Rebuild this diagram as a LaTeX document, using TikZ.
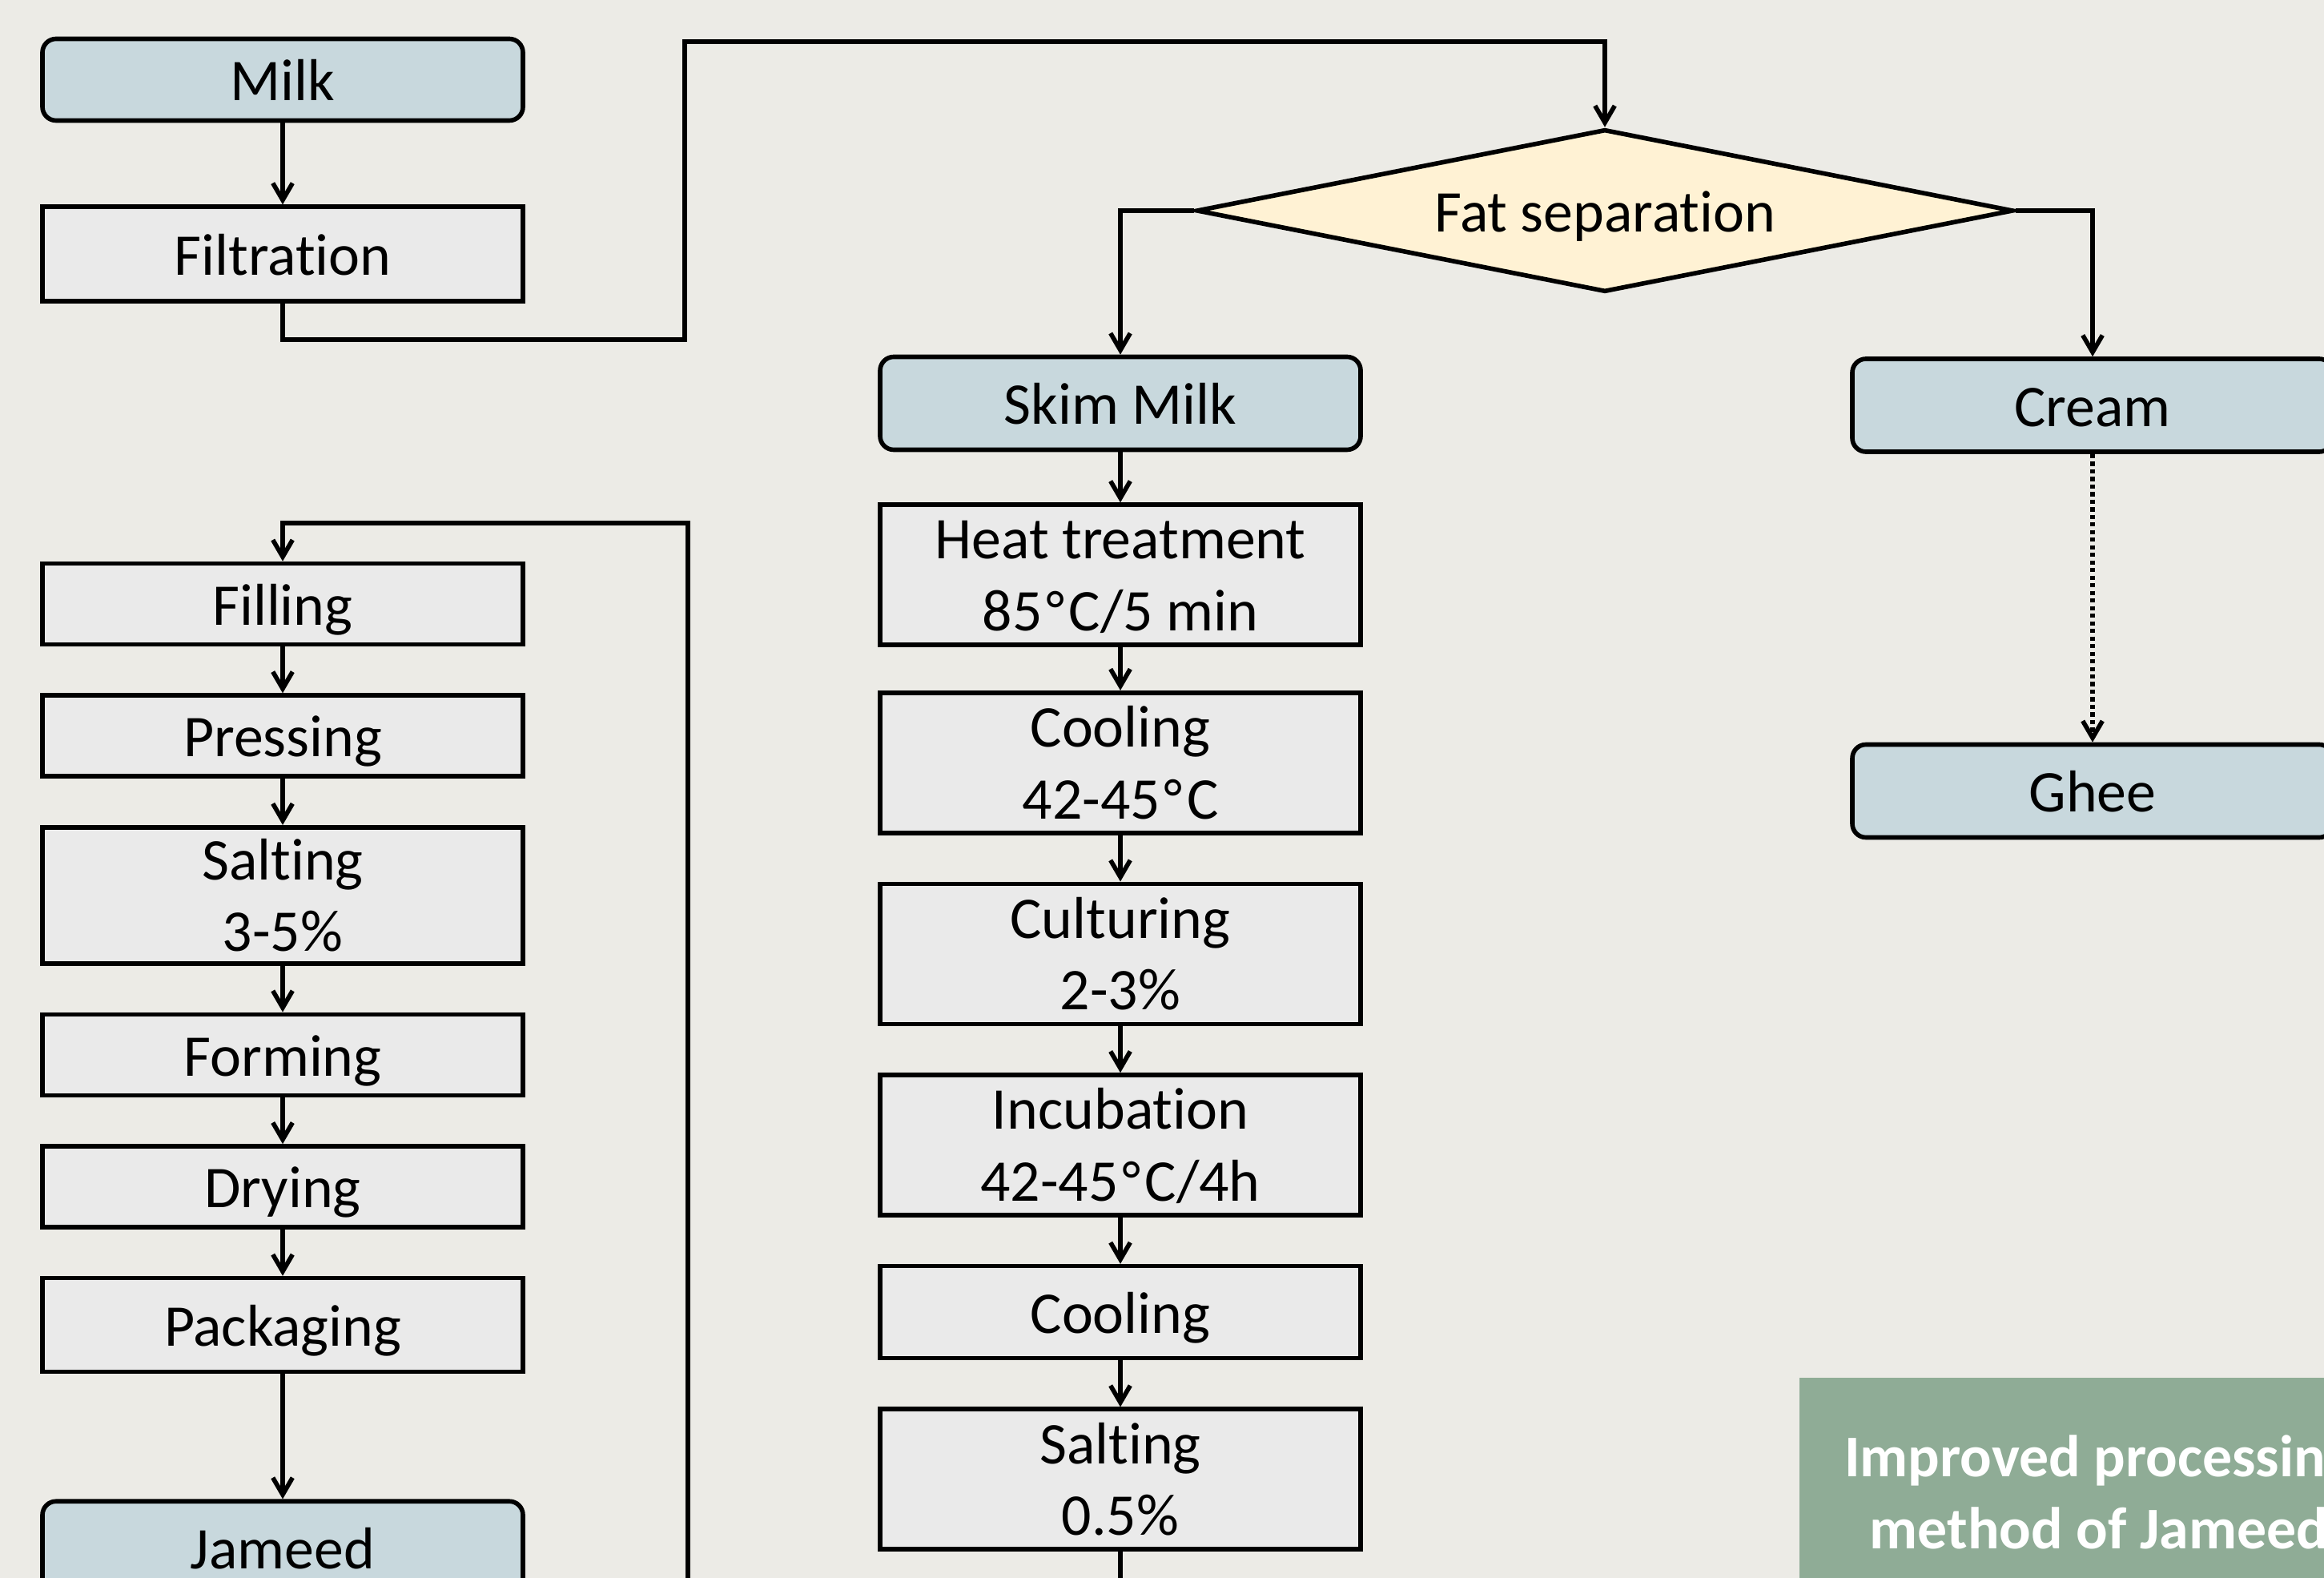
\documentclass[tikz,border=0pt]{standalone}
\usepackage{fontspec}
\setmainfont{Carlito}[Ligatures=NoCommon]
\newfontfamily\symfont{DejaVu Sans}[Scale=0.9]
\usetikzlibrary{positioning}
\usetikzlibrary{shapes.geometric}
\usetikzlibrary{arrows.meta}

\definecolor{bgcol}{RGB}{236,235,230}
\definecolor{proccol}{RGB}{234,234,234}
\definecolor{termcol}{RGB}{200,216,221}
\definecolor{deccol}{RGB}{255,242,212}
\definecolor{titlecol}{RGB}{143,172,150}
\newcommand{\capstrut}{\rule[-0.2em]{0pt}{1.11em}}
\newcommand{\degc}{{\symfont °}C}
\newcommand{\twoline}[2]{\rule{0pt}{0.88em}#1\\#2\rule[-0.2em]{0pt}{0.2em}}

\begin{document}
\begin{tikzpicture}[
    node distance=0.58cm,
    every node/.style={draw, line width=1.6pt, align=center, inner sep=0pt,
      font=\fontsize{21}{25.5}\selectfont,
      execute at begin node=\capstrut, execute at end node=\capstrut},
    proc/.style={fill=proccol, minimum width=6.0cm, minimum height=1.01cm},
    proc2/.style={proc, minimum height=1.75cm},
    term/.style={fill=termcol, rounded corners=0.17cm, minimum width=6.0cm, minimum height=1.16cm},
    decision/.style={diamond, aspect=5, fill=deccol, minimum width=10.2cm, minimum height=2.03cm},
    title/.style={draw=none, fill=titlecol, text=white, font=\fontsize{21}{25.5}\selectfont\bfseries,
      minimum width=7.48cm, minimum height=2.87cm},
    flow/.style={-{Straight Barb[length=6pt,width=7pt]}, line width=1.6pt}
  ]
  \useasboundingbox (0,0) rectangle (29.02,-19.70);
  \fill[bgcol] (0,0) rectangle (29.02,-19.70);

  \node[term, minimum height=1.02cm] (milk) at (3.53,-0.995) {Milk};
  \node[proc, minimum height=1.18cm, below=1.02cm of milk] (filt) {Filtration};
  \node[decision] (fat) at (20.04,-2.63) {Fat separation};
  \node[term] (skim) at (13.99,-5.035) {Skim Milk};
  \node[term] (cream) at (26.13,-5.06) {Cream};
  \node[term] (ghee) at (26.13,-9.875) {Ghee};

  \node[proc2, below=0.63cm of skim] (heat) {\twoline{Heat treatment}{85\degc/5 min}};
  \node[proc2, below=0.54cm of heat] (cool) {\twoline{Cooling}{42-45\degc}};
  \node[proc2, below=of cool] (cult) {\twoline{Culturing}{2-3\%}};
  \node[proc2, below=of cult] (incub) {\twoline{Incubation}{42-45\degc/4h}};
  \node[proc, minimum height=1.15cm, below=of incub] (cool2) {Cooling};
  \node[proc2, below=of cool2] (salt) {\twoline{Salting}{0.5\%}};

  \node[proc] (fill) at (3.53,-7.54) {Filling};
  \node[proc, below=of fill] (press) {Pressing};
  \node[proc2, minimum height=1.7cm, below=of press] (salt2) {\twoline{Salting}{3-5\%}};
  \node[proc, below=of salt2] (form) {Forming};
  \node[proc, below=of form] (dry) {Drying};
  \node[proc, minimum height=1.17cm, below=of dry] (pack) {Packaging};
  \node[term, below=1.56cm of pack] (jameed) {Jameed};

  \node[title] (ttl) at (26.21,-18.635) {\twoline{Improved processing}{method of Jameed}};

  \draw[flow] (milk) -- (filt);
  \draw[flow] (filt.south) |- (8.55,-4.24) -- (8.55,-0.52) -| (fat.north);
  \draw[flow] (fat.west) -| (skim.north);
  \draw[flow] (fat.east) -| (cream.north);
  \draw[flow, dash pattern=on 1.5pt off 1.2pt] (cream) -- (ghee);

  \draw[flow] (skim) -- (heat);
  \draw[flow] (heat) -- (cool);
  \draw[flow] (cool) -- (cult);
  \draw[flow] (cult) -- (incub);
  \draw[flow] (incub) -- (cool2);
  \draw[flow] (cool2) -- (salt);
  \draw[flow] (salt.south) -- (13.99,-20.4) -| (8.59,-6.53) -| (fill.north);

  \draw[flow] (fill) -- (press);
  \draw[flow] (press) -- (salt2);
  \draw[flow] (salt2) -- (form);
  \draw[flow] (form) -- (dry);
  \draw[flow] (dry) -- (pack);
  \draw[flow] (pack) -- (jameed);
\end{tikzpicture}
\end{document}
